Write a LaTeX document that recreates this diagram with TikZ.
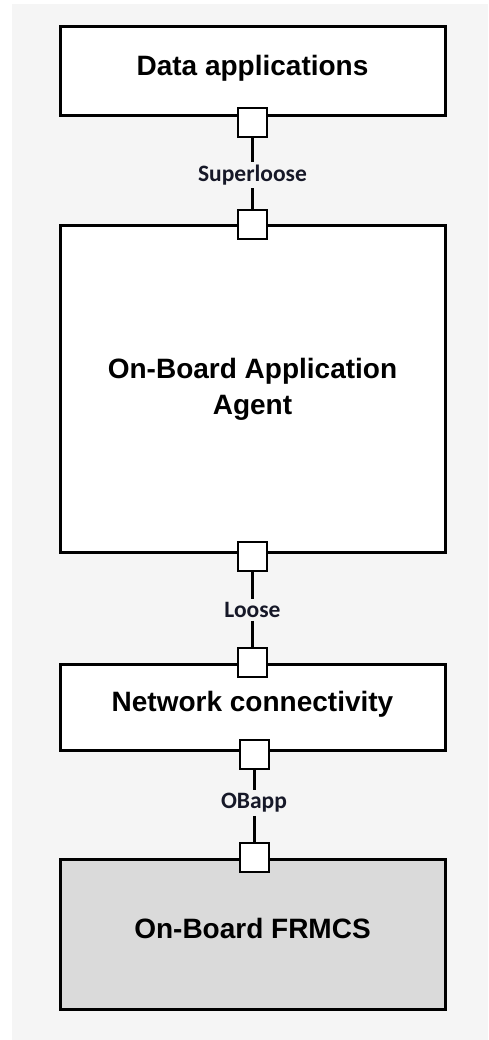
\documentclass[tikz,border=0pt]{standalone}
\usepackage{fontspec}
\setmainfont{Liberation Sans}
\newfontfamily\ifacefont{Carlito}
\definecolor{bgcol}{RGB}{245,245,245}
\definecolor{frmcsfill}{RGB}{218,218,218}
\definecolor{ifacetext}{RGB}{22,24,40}
\begin{document}
\begin{tikzpicture}[x=1pt,y=-1pt,
  block/.style={draw, line width=3pt, fill=white, minimum width=385pt,
    inner sep=0pt, align=center, font=\fontsize{28}{36}\selectfont\bfseries},
  port/.style={draw, line width=2pt, fill=white, minimum size=29pt, inner sep=0pt},
  iface/.style={inner sep=3pt, text=ifacetext,
    font=\ifacefont\fontsize{23.5}{25}\selectfont\bfseries},
  link/.style={line width=2.5pt}]
	\useasboundingbox (0,0) rectangle (488,1040);
	\fill[bgcol] (12,4) rectangle (488,1040);
	% blocks
	\node[block, minimum height=89pt, text depth=12pt] (data) at (252.5,71.5) {Data applications};
	\node[block, minimum height=326pt] (agent) at (252.5,389) {On-Board Application\\Agent};
	\node[block, minimum height=86pt, text depth=12pt] (net) at (252.5,707) {Network connectivity};
	\node[block, minimum height=150pt, text depth=12pt, fill=frmcsfill] (frmcs) at (252.5,934) {On-Board FRMCS};
	% ports
	\node[port, yshift=-5pt] (pdata) at (data.south) {};
	\node[port] (pagentt) at (agent.north) {};
	\node[port, yshift=-3pt] (pagentb) at (agent.south) {};
	\node[port] (pnett) at (net.north) {};
	\node[port, xshift=1.5pt, yshift=-3pt] (pnetb) at (net.south) {};
	\node[port, xshift=1.5pt] (pfrmcs) at (frmcs.north) {};
	% interfaces
	\node[iface] (superloose) at (252.5,175) {Superloose};
	\node[iface] (loose) at (252.5,610) {Loose};
	\node[iface] (obapp) at (254,803) {OBapp};
	\draw[link] (pdata) -- (superloose) -- (pagentt);
	\draw[link] (pagentb) -- (loose) -- (pnett);
	\draw[link, line width=3pt] (pnetb) -- (obapp) -- (pfrmcs);
\end{tikzpicture}
\end{document}
